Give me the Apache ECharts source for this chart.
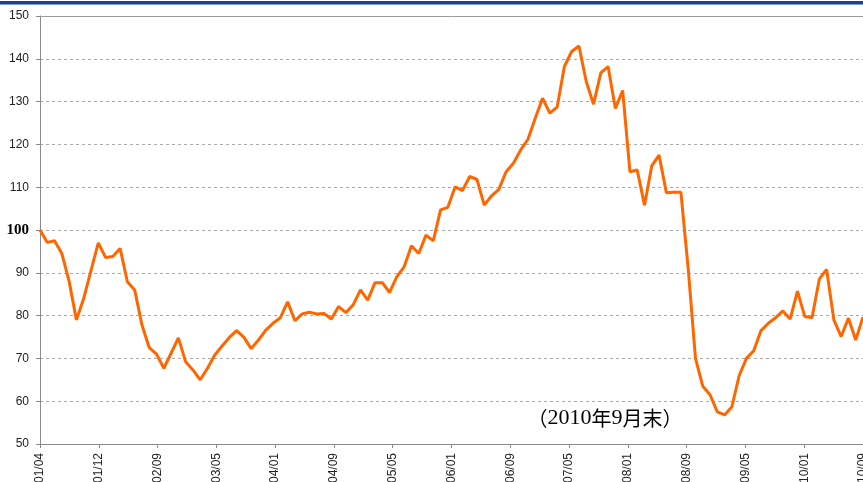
<!DOCTYPE html>
<html>
<head>
<meta charset="utf-8">
<script src="https://cdn.jsdelivr.net/npm/echarts@6/dist/echarts.min.js"></script>
<style>
html,body{margin:0;padding:0;background:#fff;overflow:hidden;}
#chart{width:863px;height:482px;}
</style>
</head>
<body>
<div id="chart"></div>
<script>
// Monthly index, 2001/04 .. 2010/09 (114 points)
const indexValues = [
  100, 97.1, 97.5, 94.5, 88, 79, 84, 90.5, 97, 93.6,
  93.8, 95.7, 87.9, 86, 77.8, 72.5, 71, 67.7, 71.2, 74.8,
  69.2, 67.3, 65, 67.7, 70.8, 72.9, 74.9, 76.5, 74.9, 72.3,
  74.3, 76.6, 78.2, 79.5, 83.2, 78.8, 80.4, 80.8, 80.4, 80.5,
  79.2, 82.1, 80.7, 82.5, 86, 83.6, 87.7, 87.7, 85.4, 89.1,
  91.4, 96.3, 94.5, 98.8, 97.5, 104.7, 105.3, 110.1, 109.2, 112.5,
  111.8, 105.8, 108, 109.5, 113.6, 115.6, 118.7, 121.2, 126.1, 130.8,
  127.3, 128.7, 138.2, 141.7, 143, 134.7, 129.4, 136.7, 138.2, 128.4,
  132.6, 113.6, 114, 105.8, 115, 117.5, 108.7, 108.8, 108.8, 91,
  70, 63.5, 61.5, 57.5, 56.8, 58.7, 66, 70, 71.8, 76.5,
  78.2, 79.5, 81.1, 79.2, 85.7, 79.8, 79.5, 88.5, 90.8, 79,
  75.1, 79.4, 74.3, 79.7
];
const xTickLabels = ['01/04','01/12','02/09','03/05','04/01','04/09','05/05','06/01','06/09','07/05','08/01','08/09','09/05','10/01','10/09'];
const yMin = 50, yMax = 150, yStep = 10;
const noteParts = ['（', '2010', '年', '9', '月末', '）'];

const lastIdx = indexValues.length - 1;
const xStep = lastIdx / (xTickLabels.length - 1);

const chart = echarts.init(document.getElementById('chart'), null, {renderer:'canvas'});
chart.setOption({
  animation: false,
  backgroundColor: '#fff',
  grid: {left: 40, right: 0, top: 16, bottom: 38, containLabel: false, outerBoundsMode: 'none'},
  xAxis: [{
    type: 'value', min: 0, max: lastIdx, interval: xStep,
    axisLine: {show: true, onZero: false, lineStyle: {color: '#8a8a8a', width: 1}},
    axisTick: {show: true, length: 4, lineStyle: {color: '#8a8a8a'}},
    splitLine: {show: false},
    axisLabel: {
      rotate: 90, margin: 9, fontSize: 12, color: '#222',
      fontFamily: '"Liberation Sans", Arial, sans-serif',
      showMinLabel: true, showMaxLabel: true, hideOverlap: false,
      formatter: function (v) { return xTickLabels[Math.round(v / xStep)] || ''; }
    }
  }, {
    type: 'value', min: 0, max: lastIdx, position: 'top',
    axisLine: {show: true, lineStyle: {color: '#9a9a9a', width: 1}},
    axisTick: {show: false}, axisLabel: {show: false}, splitLine: {show: false}
  }],
  yAxis: {
    type: 'value', min: yMin, max: yMax, interval: yStep,
    axisLine: {show: true, lineStyle: {color: '#8a8a8a', width: 1}},
    axisTick: {show: true, length: 4, lineStyle: {color: '#8a8a8a'}},
    splitLine: {show: true, lineStyle: {color: '#a8a8a8', type: [3, 3], width: 1}},
    axisLabel: {
      margin: 11,
      formatter: function (v) { return v === 100 ? '{b|' + v + '}' : '{a|' + v + '}'; },
      rich: {
        a: {fontSize: 12, color: '#222', fontFamily: '"Liberation Sans", Arial, sans-serif'},
        b: {fontSize: 15, fontWeight: 'bold', color: '#000', fontFamily: '"Liberation Serif", "Times New Roman", serif'}
      }
    }
  },
  series: [{
    type: 'line',
    xAxisIndex: 0,
    data: indexValues.map(function (v, i) { return [i, v]; }),
    symbol: 'none',
    lineStyle: {color: '#ff6600', width: 3},
    itemStyle: {color: '#ff6600'}
  }],
  graphic: [
    {type: 'rect', shape: {x: 0, y: 1, width: 863, height: 3}, style: {fill: '#1f3f8f'}},
    {type: 'rect', shape: {x: 0, y: 4, width: 863, height: 1}, style: {fill: '#7f9fd6'}},
    {type: 'text', x: 605, y: 418, style: {
      text: '{p|' + noteParts[0] + '}{s|' + noteParts[1] + '}{k|' + noteParts[2] + '}{s|' + noteParts[3] + '}{k|' + noteParts[4] + '}{p|' + noteParts[5] + '}',
      fill: '#000', align: 'center', verticalAlign: 'middle',
      rich: {
        p: {fontSize: 20, fontFamily: '"Noto Sans CJK JP", sans-serif', fill: '#000'},
        s: {fontSize: 22, fontFamily: '"Liberation Serif", serif', fill: '#000'},
        k: {fontSize: 20, fontFamily: '"Noto Sans CJK JP", sans-serif', fill: '#000'}
      }
    }}
  ]
});
</script>
</body>
</html>
